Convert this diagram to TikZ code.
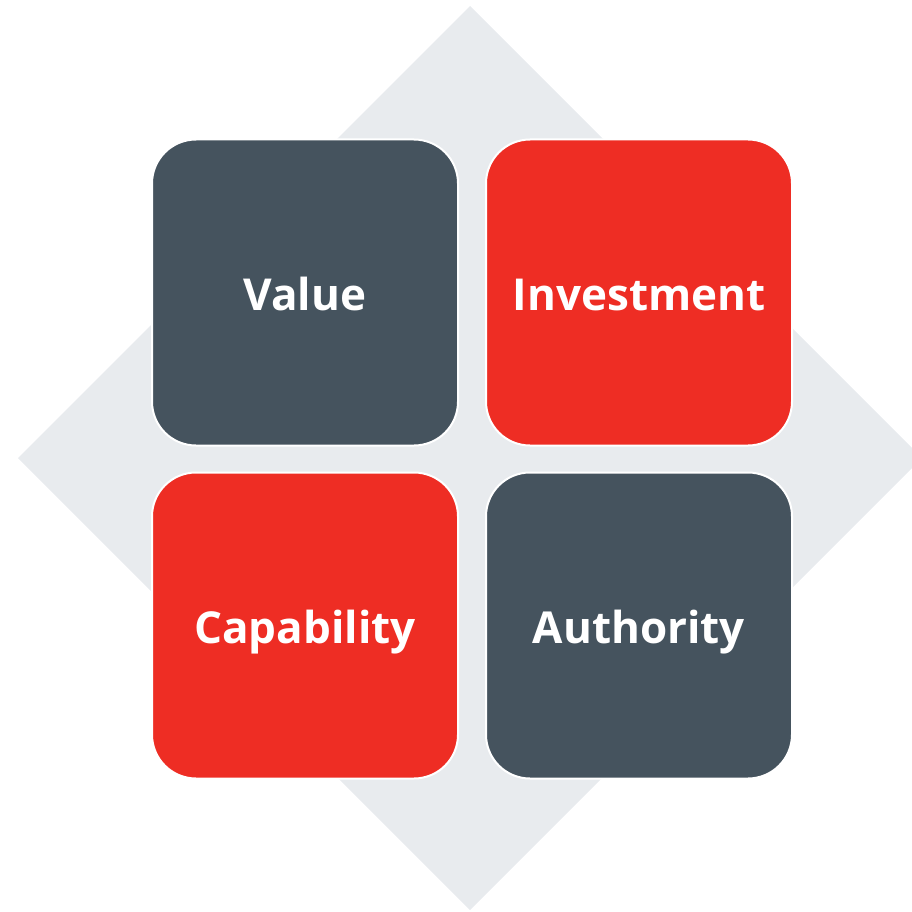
\documentclass[tikz,border=0pt]{standalone}
\usepackage{fontspec}
\setmainfont{Open Sans}
\newcommand{\tiletext}[1]{\raisebox{-18pt}[0pt][0pt]{#1}}
\begin{document}
\begin{tikzpicture}[x=1pt,y=-1pt,
  tile/.style={draw=white,line width=2pt,rounded corners=44pt,minimum width=306pt,minimum height=306pt,inner sep=0pt,
    font=\fontsize{44}{50}\selectfont\bfseries,text=white},
  slate/.style={tile,fill=slateC},
  redt/.style={tile,fill=redC}]
\definecolor{slateC}{HTML}{45535E}
\definecolor{redC}{HTML}{EE2D24}
\definecolor{diaC}{HTML}{E8EBEE}
\useasboundingbox (0,0) rectangle (912,912);
\clip (0,0) rectangle (912,912);
\fill[diaC] (470,6) -- (922,458) -- (470,910) -- (18,458) -- cycle;
\node[slate] (value) at (305,292.5) {\tiletext{Value}};
\node[redt] (invest) at (639,292.5) {\tiletext{Investment}};
\node[redt] (capab) at (305,625.5) {\tiletext{Capability}};
\node[slate] (auth) at (639,625.5) {\tiletext{Authority}};
\end{tikzpicture}
\end{document}
